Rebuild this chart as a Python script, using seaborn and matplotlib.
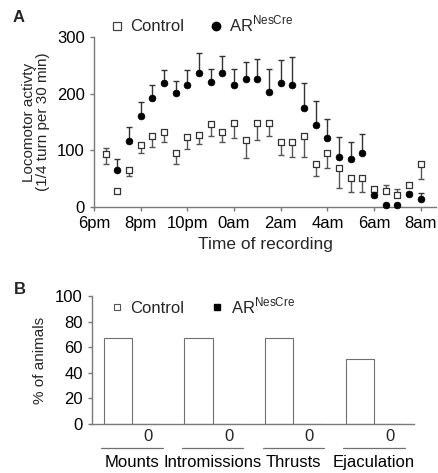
import matplotlib
matplotlib.use('Agg')
import matplotlib.pyplot as plt
import numpy as np
import pandas as pd
import seaborn as sns
from matplotlib.lines import Line2D

# ---- panel A data: half-hour bins, hours after 6pm ----
slot_hours = [0.5, 1.0, 1.5, 2.0, 2.5, 3.0, 3.5, 4.0, 4.5, 5.0, 5.5, 6.0, 6.5, 7.0,
              7.5, 8.0, 8.5, 9.0, 9.5, 10.0, 10.5, 11.0, 11.5, 12.0, 12.5, 13.0, 13.5, 14.0]
ctrl = [94, 29, 66, 109, 126, 132, 96, 124, 127, 146, 133, 149, 118, 149,
        148, 114, 115, 125, 75, 95, 68, 52, 52, 31, 29, 21, 39, 75]
ctrl_lo = [18, 0, 11, 13, 20, 17, 20, 21, 15, 21, 18, 27, 31, 30,
           22, 23, 26, 36, 20, 26, 34, 25, 25, 13, 0, 0, 0, 25]
ctrl_hi = [10, 0, 0, 0, 0, 0, 0, 0, 0, 0, 0, 0, 0, 0,
           0, 0, 0, 0, 0, 0, 0, 0, 0, 0, 10, 11, 0, 0]
ar = [np.nan, 65, 117, 161, 192, 218, 201, 215, 236, 221, 237, 216, 225, 226,
      203, 218, 216, 175, 144, 122, 89, 85, 96, 22, 4, 4, 23, 14]
ar_hi = [0, 19, 24, 24, 24, 24, 22, 27, 35, 23, 30, 28, 30, 35,
         41, 41, 48, 43, 43, 33, 35, 30, 32, 5, 0, 0, 4, 10]
ar_lo = [0] * len(ar)
time_ticks = [0, 2, 4, 6, 8, 10, 12, 14]
time_labels = ['6pm', '8pm', '10pm', '0am', '2am', '4am', '6am', '8am']

# ---- panel B data ----
behaviors = ['Mounts', 'Intromissions', 'Thrusts', 'Ejaculation']
ctrl_pct = [67.5, 67, 67, 50.5]
ar_pct = [0, 0, 0, 0]

AXIS_GRAY = '#7a7a7a'
BAR_GRAY = '#707070'

sns.set_style('ticks')
plt.rcParams['font.family'] = ['Liberation Sans', 'DejaVu Sans']
plt.rcParams['mathtext.fontset'] = 'custom'
plt.rcParams['mathtext.rm'] = 'Liberation Sans'
plt.rcParams['font.size'] = 12

fig = plt.figure(figsize=(4.38, 4.73), dpi=100)
ax_a = fig.add_axes([0.2146, 0.5624, 0.7808, 0.3594])
ax_b = fig.add_axes([0.2094, 0.1036, 0.7365, 0.2706])


def style_axes(ax):
    sns.despine(ax=ax)
    for side in ['left', 'bottom']:
        ax.spines[side].set_color(AXIS_GRAY)
        ax.spines[side].set_linewidth(1)
    ax.tick_params(colors=AXIS_GRAY, labelcolor='black', labelsize=12, length=3, width=1)


# ---- A: locomotor activity ----
ax_a.errorbar(slot_hours, ctrl, yerr=[ctrl_lo, ctrl_hi], fmt='none', ecolor='#555555',
              elinewidth=1, capsize=2, capthick=1, zorder=2)
ax_a.errorbar(slot_hours, ar, yerr=[ar_lo, ar_hi], fmt='none', ecolor='#333333',
              elinewidth=1, capsize=2, capthick=1, zorder=2)
sns.scatterplot(x=slot_hours, y=ctrl, marker='s', s=22, color='white', edgecolor='#333333',
                linewidth=0.9, ax=ax_a, zorder=3, clip_on=False)
sns.scatterplot(x=slot_hours, y=ar, marker='o', s=24, color='black', edgecolor='black',
                linewidth=0.5, ax=ax_a, zorder=4, clip_on=False)

style_axes(ax_a)
ax_a.set_xlim(0, 14.65)
ax_a.set_ylim(0, 300)
ax_a.set_yticks([0, 100, 200, 300])
ax_a.set_xticks(time_ticks)
ax_a.set_xticklabels(time_labels)
ax_a.set_xlabel('Time of recording', fontsize=12.5)
ax_a.set_ylabel('Locomotor activty\n(1/4 turn per 30 min)', fontsize=11, linespacing=1.05)
ax_a.yaxis.set_label_coords(-0.128, 0.5)

leg_a = [Line2D([], [], marker='s', ls='none', mfc='white', mec='#444444', ms=6, mew=0.9,
                label='Control'),
         Line2D([], [], marker='o', ls='none', color='black', ms=6,
                label=r'AR$^{\mathrm{NesCre}}$')]
ax_a.legend(handles=leg_a, ncol=2, frameon=False, loc='center left',
            bbox_to_anchor=(0.047, 1.076), borderaxespad=0, borderpad=0,
            handlelength=0.8, handletextpad=0.4, columnspacing=1.5, fontsize=12)

# ---- B: sexual behaviour ----
df_b = pd.DataFrame({'behavior': behaviors * 2,
                     'group': ['Control'] * len(behaviors) + ['AR'] * len(behaviors),
                     'pct': ctrl_pct + ar_pct})
sns.barplot(data=df_b, x='behavior', y='pct', hue='group',
            palette={'Control': 'white', 'AR': 'black'}, edgecolor=BAR_GRAY,
            linewidth=0.8, width=0.7, errorbar=None, legend=False, ax=ax_b)

style_axes(ax_b)
ax_b.set_xlim(-0.5, 3.5)
ax_b.set_ylim(0, 100)
ax_b.set_yticks([0, 20, 40, 60, 80, 100])
ax_b.tick_params(axis='x', length=0, pad=22)
ax_b.set_xlabel('')
ax_b.set_ylabel('% of animals', fontsize=11)
ax_b.yaxis.set_label_coords(-0.14, 0.5)

# data-table row under the bars (AR values)
xt = ax_b.get_xaxis_transform()
for i, v in enumerate(ar_pct):
    ax_b.text(i + 0.2, -0.097, f'{v:g}', transform=xt, ha='center', va='center', fontsize=12)
    ax_b.plot([i - 0.38, i + 0.38], [-0.185, -0.185], transform=xt, color=BAR_GRAY,
              lw=0.9, clip_on=False)

leg_b = [Line2D([], [], marker='s', ls='none', mfc='white', mec='#555555', ms=5, mew=0.8,
                label='Control'),
         Line2D([], [], marker='s', ls='none', color='black', ms=5,
                label=r'AR$^{\mathrm{NesCre}}$')]
ax_b.legend(handles=leg_b, ncol=2, frameon=False, loc='center left',
            bbox_to_anchor=(0.057, 0.922), borderaxespad=0, borderpad=0,
            handlelength=0.8, handletextpad=0.4, columnspacing=1.6, fontsize=12)

fig.text(19 / 438, 1 - 18 / 473, 'A', fontsize=12, fontweight='bold', ha='center', va='center')
fig.text(20 / 438, 1 - 290 / 473, 'B', fontsize=12, fontweight='bold', ha='center', va='center')

fig.savefig('out.png', dpi=100)
